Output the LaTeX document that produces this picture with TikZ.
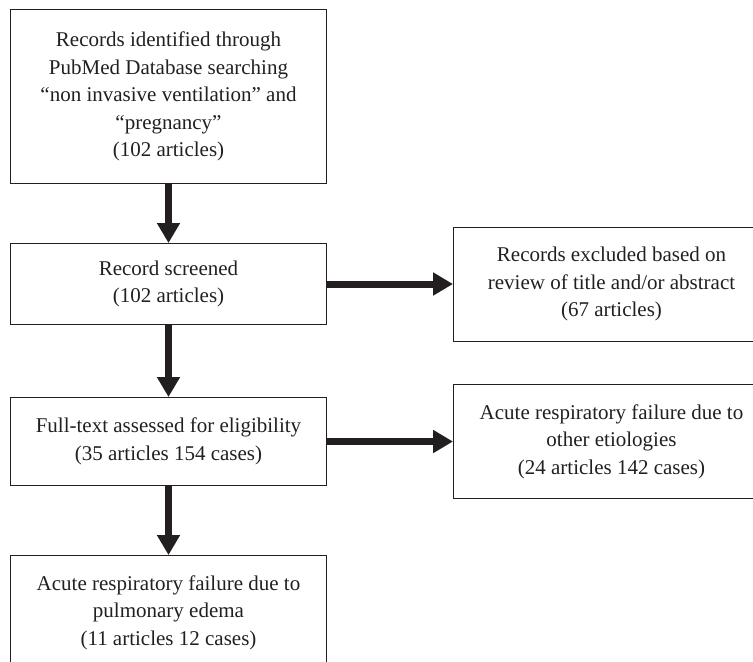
\documentclass[tikz,border=0pt]{standalone}
\usepackage{fontspec}
\setmainfont{Liberation Serif}
\usetikzlibrary{positioning, arrows.meta}
\definecolor{inkdark}{HTML}{231F20}

\begin{document}
\begin{tikzpicture}[
    node distance=30pt and 63pt,
    arrow/.style={
        -{Triangle[length=10pt,width=11pt]},
        line width=3.5pt,
        draw=inkdark
    },
    box/.style={
        rectangle,
        draw=inkdark,
        line width=0.5pt,
        text=inkdark,
        minimum width=158pt,
        align=center,
        inner sep=2pt,
        font=\fontsize{10.5pt}{13.7pt}\selectfont
    }
]

    % Frame of the page (cropped at right and bottom)
    \useasboundingbox (-5pt,4.5pt) rectangle (371.5pt,-326pt);

    % --- Main column ---

    % Search
    \node[box, anchor=north west, minimum height=87pt] (search) at (0,0)
        {Records identified through\\PubMed Database searching\\“non invasive ventilation” and\\“pregnancy”\\(102 articles)};

    % Screening
    \node[box, below=29.5pt of search, minimum height=40.5pt] (screen)
        {Record screened\\(102 articles)};
    \draw[arrow] (search) -- (screen);

    % Eligibility
    \node[box, below=36pt of screen, minimum height=44pt] (eligible)
        {Full-text assessed for eligibility\\(35 articles 154 cases)};
    \draw[arrow] (screen) -- (eligible);

    % Included
    \node[box, below=34.5pt of eligible, minimum height=57pt] (edema)
        {Acute respiratory failure due to\\pulmonary edema\\(11 articles 12 cases)};
    \draw[arrow] (eligible) -- (edema);

    % --- Exclusions ---

    \node[box, right=of screen, minimum height=57pt] (excluded)
        {Records excluded based on\\review of title and/or abstract\\(67 articles)};
    \draw[arrow] (screen) -- (excluded);

    \node[box, right=of eligible, minimum height=57pt] (other)
        {Acute respiratory failure due to\\other etiologies\\(24 articles 142 cases)};
    \draw[arrow] (eligible) -- (other);

\end{tikzpicture}
\end{document}
